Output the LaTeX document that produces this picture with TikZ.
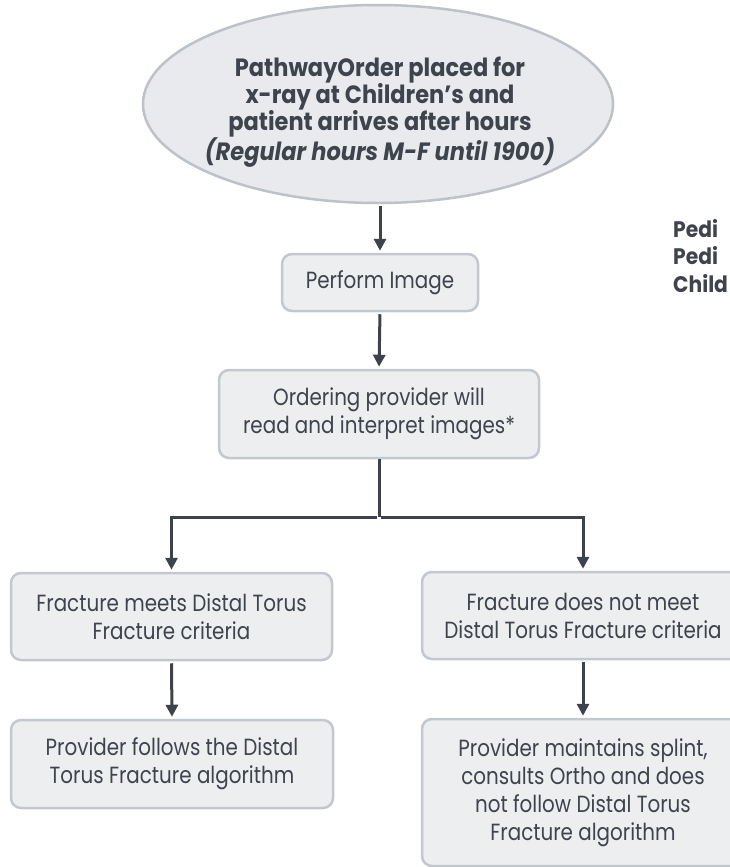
\documentclass[tikz,border=0pt]{standalone}
\usepackage{fontspec}
\setmainfont{Poppins}[FakeStretch=0.85]
\newfontfamily\headfam{Poppins}[FakeStretch=0.9]
\usetikzlibrary{shapes.geometric,arrows.meta}
\definecolor{txt}{HTML}{3E434C}
\definecolor{boxfill}{HTML}{EDEEF0}
\definecolor{boxline}{HTML}{C3C8CE}
\definecolor{ellfill}{HTML}{E8EAED}
\definecolor{ellline}{HTML}{BCC2C8}
\definecolor{arr}{HTML}{3D434C}
\tikzset{
  stepbox/.style={draw=boxline, line width=2.5pt, fill=boxfill, rounded corners=10pt,
    text=txt, align=center, font=\fontsize{23.4}{28}\selectfont, inner sep=0pt},
  startell/.style={ellipse, draw=ellline, line width=2.5pt, fill=ellfill, inner sep=0pt},
  flow/.style={draw=arr, line width=3pt, -{Triangle[width=12pt,length=12pt]}, shorten >=2pt, shorten <=2pt},
  plain/.style={draw=arr, line width=3pt},
  sidelabel/.style={text=txt, font=\headfam\bfseries\fontsize{22.5}{27}\selectfont, inner sep=0pt, anchor=base west},
}
\begin{document}
\begin{tikzpicture}[x=1pt,y=-1pt]
\useasboundingbox (0,0) rectangle (730,867);
\clip (0,0) rectangle (730,867);
\node[startell, minimum width=470, minimum height=198] (ell) at (378,104) {};
\node[text=txt, align=center, font=\headfam\bfseries\fontsize{25}{27}\selectfont, inner sep=0pt] (elltext) at (380,112)
  {PathwayOrder placed for\\x-ray at Children’s and\\patient arrives after hours\\\textit{(Regular hours M-F until 1900)}};
\node[stepbox, minimum width=196, minimum height=57] (perf) at (380,282.5) {Perform Image};
\node[stepbox, minimum width=320, minimum height=88] (ord) at (379,414) {Ordering provider will\\read and interpret images*};
\node[stepbox, minimum width=321, minimum height=87] (l1) at (171.5,616.5) {Fracture meets Distal Torus\\Fracture criteria};
\node[stepbox, minimum width=322, minimum height=87] (r1) at (583,615.5) {Fracture does not meet\\Distal Torus Fracture criteria};
\node[stepbox, minimum width=322, minimum height=88] (l2) at (172,764) {Provider follows the Distal\\Torus Fracture algorithm};
\node[stepbox, minimum width=322, minimum height=147] (r2) at (583,792.5) {Provider maintains splint,\\consults Ortho and does\\not follow Distal Torus\\Fracture algorithm};
\node[sidelabel] (pedi1) at (673,237) {Pedi};
\node[sidelabel] (pedi2) at (673,264) {Pedi};
\node[sidelabel] (child) at (673,292) {Child};
\coordinate (split) at (379,517);
\draw[flow] (ell.south -| perf.north) -- (perf.north);
\draw[flow] (perf.south) -- (ord.north);
\draw[plain] (ord.south) -- (split);
\draw[flow] (split) -| (l1.north);
\draw[flow] (split) -| (r1.north);
\draw[flow] (l1.south) -- (l2.north);
\draw[flow] (r1.south) -- (r2.north);
\end{tikzpicture}
\end{document}
